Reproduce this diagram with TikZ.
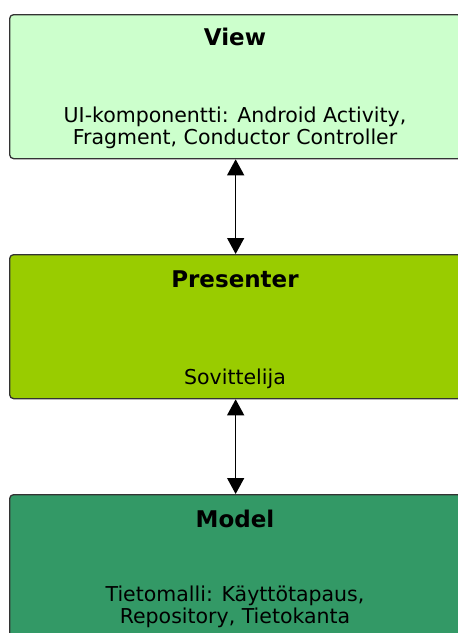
\documentclass[tikz,border=0pt]{standalone}
\usepackage{fontspec}
\setmainfont{DejaVu Sans}
\usetikzlibrary{arrows.meta,positioning}

\definecolor{viewgreen}{HTML}{CCFFCC}
\definecolor{presentergreen}{HTML}{99CC00}
\definecolor{modelgreen}{HTML}{339966}
\definecolor{boxline}{HTML}{333333}

\begin{document}
\begin{tikzpicture}[x=1pt, y=-1pt,
    layer/.style={draw=boxline, line width=1.3pt, rounded corners=4pt,
        minimum width=452pt, minimum height=144pt, inner sep=0pt, anchor=north west},
    title/.style={font=\fontsize{23}{26}\selectfont\bfseries, anchor=base},
    desc/.style={font=\fontsize{20.5}{22}\selectfont, align=center, anchor=base},
    link/.style={draw=black, line width=1.3pt,
        {Triangle[width=17pt,length=16pt]}-{Triangle[width=17pt,length=16pt]}}]
    \useasboundingbox (0,0) rectangle (458,633);

    % the three layers (desc nodes sit on their last line)
    \node[layer, fill=viewgreen] (view) at (9,14) {};
    \node[title] (viewtitle) at (235,45) {View};
    \node[desc] (viewdesc) at (235,144) {UI-komponentti: Android Activity,\\ Fragment, Conductor Controller};

    \node[layer, fill=presentergreen] (presenter) at (9,254) {};
    \node[title] (presentertitle) at (235,287) {Presenter};
    \node[desc] (presenterdesc) at (235,384) {Sovittelija};

    \node[layer, fill=modelgreen] (model) at (9,494) {};
    \node[title] (modeltitle) at (235,527) {Model};
    \node[desc] (modeldesc) at (235,623) {Tietomalli: Käyttötapaus,\\ Repository, Tietokanta};

    % two-way links
    \draw[link] (view.south) -- (presenter.north);
    \draw[link] (presenter.south) -- (model.north);
\end{tikzpicture}
\end{document}
